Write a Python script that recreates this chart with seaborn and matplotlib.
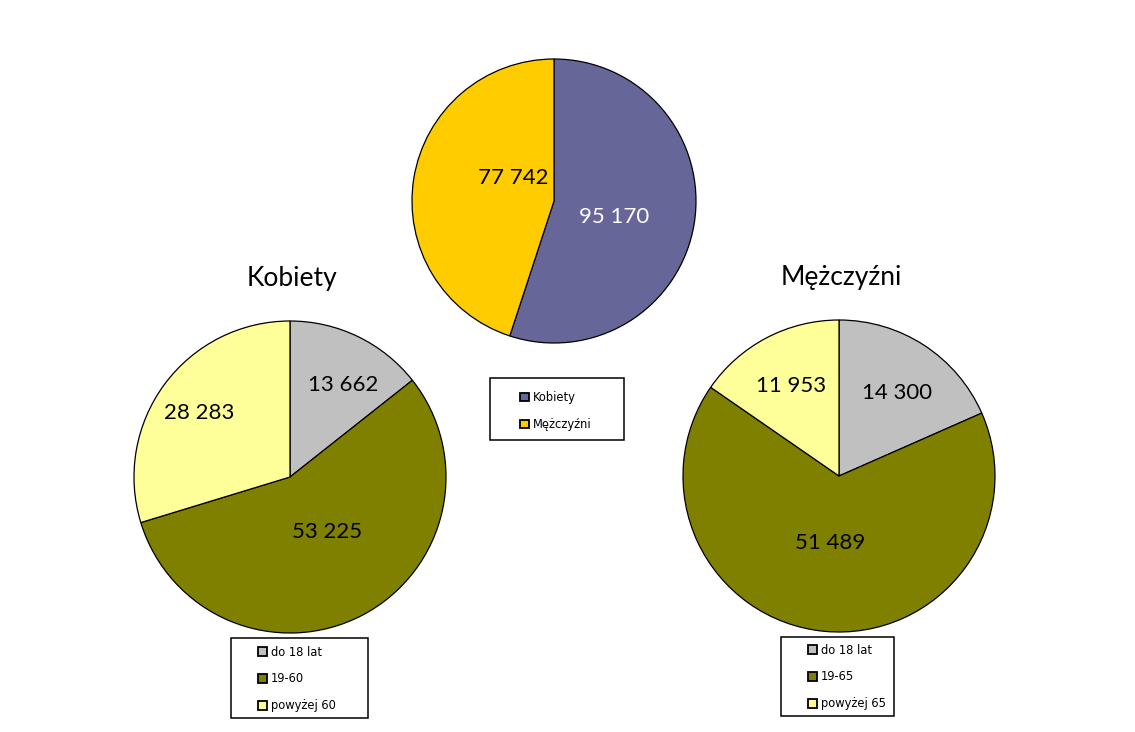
import matplotlib
matplotlib.use("Agg")
import matplotlib.pyplot as plt
from matplotlib.patches import Patch, Rectangle
import seaborn as sns

sns.set_theme(style="white")
plt.rcParams['font.family'] = ['Lato', 'DejaVu Sans']
plt.rcParams['text.color'] = 'black'

# ---- data ----
sex_labels = ["Kobiety", "Mężczyźni"]
sex_values = [95170, 77742]
sex_colors = ["#666699", "#FFCC00"]

women_labels = ["do 18 lat", "19-60", "powyżej 60"]
women_values = [13662, 53225, 28283]

men_labels = ["do 18 lat", "19-65", "powyżej 65"]
men_values = [14300, 51489, 11953]

age_colors = ["#C0C0C0", "#808000", "#FFFF99"]

W, H = 1135, 732
fig = plt.figure(figsize=(W / 100, H / 100), dpi=100)
fig.patch.set_facecolor("white")


def fmt(v):
    return f"{v:,}".replace(",", " ")


def pie_axes(cx, cy, r):
    return fig.add_axes([(cx - r) / W, 1 - (cy + r) / H, 2 * r / W, 2 * r / H])


def draw_pie(ax, values, colors, label_pos, label_colors):
    wedges, _ = ax.pie(values, colors=colors, startangle=90, counterclock=False,
                       wedgeprops=dict(edgecolor="black", linewidth=0.9))
    for w in wedges:
        w.set_clip_on(False)
    ax.set_xlim(-1, 1)
    ax.set_ylim(-1, 1)
    ax.set_aspect("equal")
    ax.axis("off")
    for v, (x, y), c in zip(values, label_pos, label_colors):
        ax.text(x, y, fmt(v), ha="center", va="center", fontsize=16, color=c)


def draw_legend(labels, colors, box, handle_x, mid_y):
    x0, y0, x1, y1 = box
    fig.add_artist(Rectangle((x0 / W, 1 - y1 / H), (x1 - x0) / W, (y1 - y0) / H,
                             transform=fig.transFigure, fill=False,
                             edgecolor="black", linewidth=1.1))
    handles = [Patch(facecolor=c, edgecolor="black", linewidth=1.3, label=l)
               for l, c in zip(labels, colors)]
    leg = fig.legend(handles=handles, loc="center left",
                     bbox_to_anchor=(handle_x / W, 1 - mid_y / H),
                     borderaxespad=0, borderpad=0,
                     prop={"family": "DejaVu Sans", "size": 8.3},
                     handlelength=0.8, handleheight=0.8, handletextpad=0.3,
                     labelspacing=1.2, frameon=False)
    for t in leg.get_texts():
        t.set_color("black")


# top pie
ax_top = pie_axes(554, 201, 142)
draw_pie(ax_top, sex_values, sex_colors, [(0.42, -0.11), (-0.29, 0.16)], ["white", "black"])
draw_legend(sex_labels, sex_colors, (490, 378, 624, 440), 520, 411)

# left pie (Kobiety)
ax_left = pie_axes(290, 477, 156)
draw_pie(ax_left, women_values, age_colors, [(0.34, 0.59), (0.24, -0.35), (-0.58, 0.41)],
         ["black", "black", "black"])
fig.text(292 / W, 1 - 279 / H, "Kobiety", ha="center", va="center", fontsize=19, color="black")
draw_legend(women_labels, age_colors, (231, 638, 368, 718), 258, 679)

# right pie (Mężczyźni)
ax_right = pie_axes(839, 476, 156)
draw_pie(ax_right, men_values, age_colors, [(0.37, 0.53), (-0.06, -0.43), (-0.31, 0.58)],
         ["black", "black", "black"])
fig.text(841 / W, 1 - 278 / H, "Mężczyźni", ha="center", va="center", fontsize=19, color="black")
draw_legend(men_labels, age_colors, (781, 637, 894, 716), 808, 677)

fig.savefig("out.png", dpi=100, facecolor="white")
